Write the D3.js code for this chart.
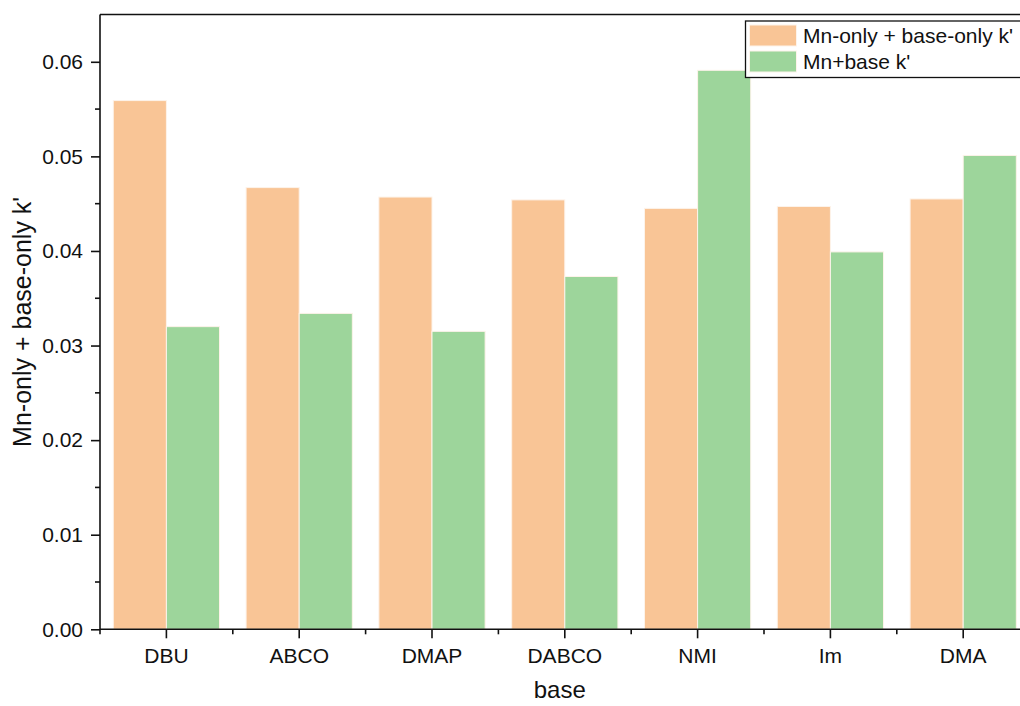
<!DOCTYPE html>
<html>
<head>
<meta charset="utf-8">
<script src="https://cdn.jsdelivr.net/npm/d3@7"></script>
<style>
  html, body { margin: 0; padding: 0; background: #fff; }
  svg { display: block; font-family: Arial, "Liberation Sans", sans-serif; }
</style>
</head>
<body>
<svg id="chart" width="1020" height="706"></svg>
<script>
// Reaction rate constants per base
const categories = ["DBU", "ABCO", "DMAP", "DABCO", "NMI", "Im", "DMA"];
const seriesNames = ["Mn-only + base-only k'", "Mn+base k'"];
const sumOnlyK = [0.0559, 0.0467, 0.0457, 0.0454, 0.0445, 0.0447, 0.0455];
const combinedK = [0.0320, 0.0334, 0.0315, 0.0373, 0.0591, 0.0399, 0.0501];
const yTicks = [0.00, 0.01, 0.02, 0.03, 0.04, 0.05, 0.06];
const colors = ["#F9C596", "#9DD59B"];

const svg = d3.select("#chart");
const plotLeft = 100, plotTop = 14.5, plotBottom = 629.3;
const plotRight = plotLeft + 7 * 132.8; // plot extends past the window edge

const x = d3.scaleBand().domain(categories).range([plotLeft, plotRight]).paddingInner(0.2).paddingOuter(0.1);
const xOuter = d3.scaleBand().domain(categories).range([plotLeft, plotRight]).padding(0);
const xSub = d3.scaleBand().domain([0, 1]).range([0, x.bandwidth()]);
const y = d3.scaleLinear().domain([0, 0.065]).range([plotBottom, plotTop]);

const rows = categories.map((c, i) => ({ c, v: [sumOnlyK[i], combinedK[i]] }));

// bars
const g = svg.append("g");
rows.forEach(r => {
  r.v.forEach((v, s) => {
    g.append("rect")
      .attr("x", xOuter(r.c) + (xOuter.bandwidth() - x.bandwidth()) / 2 + xSub(s))
      .attr("y", y(v))
      .attr("width", xSub.bandwidth())
      .attr("height", y(0) - y(v))
      .attr("fill", colors[s])
      .attr("stroke", "#fdf3ea")
      .attr("stroke-width", 1);
  });
});

const axisColor = "#111";
const fontSize = 21;

// y axis
const yAxis = d3.axisLeft(y).tickValues(yTicks).tickFormat(d3.format(".2f")).tickSize(9).tickPadding(8);
const ya = svg.append("g").attr("transform", `translate(${plotLeft},0)`).call(yAxis);
ya.select(".domain").attr("stroke", axisColor).attr("stroke-width", 1.6).attr("d", `M0,${plotBottom}V${plotTop}`);
ya.selectAll(".tick line").attr("stroke", axisColor).attr("stroke-width", 1.6);
ya.selectAll(".tick text").attr("font-size", fontSize).attr("fill", "#111").attr("font-family", "Arial, 'Liberation Sans', sans-serif");
// minor y ticks
const yMinor = d3.range(0.005, 0.065, 0.01);
svg.append("g").selectAll("line").data(yMinor).join("line")
  .attr("x1", plotLeft - 5).attr("x2", plotLeft).attr("y1", d => y(d)).attr("y2", d => y(d))
  .attr("stroke", axisColor).attr("stroke-width", 1.6);

// x axis
const xAxis = d3.axisBottom(xOuter).tickSize(9).tickPadding(10);
const xa = svg.append("g").attr("transform", `translate(0,${plotBottom})`).call(xAxis);
xa.select(".domain").attr("stroke", axisColor).attr("stroke-width", 1.6).attr("d", `M${plotLeft},0H${plotRight}`);
xa.selectAll(".tick line").attr("stroke", axisColor).attr("stroke-width", 1.6);
xa.selectAll(".tick text").attr("font-size", fontSize).attr("fill", "#111").attr("font-family", "Arial, 'Liberation Sans', sans-serif");
// minor x ticks at category boundaries
svg.append("g").selectAll("line").data(categories).join("line")
  .attr("x1", d => xOuter(d)).attr("x2", d => xOuter(d))
  .attr("y1", plotBottom).attr("y2", plotBottom + 5)
  .attr("stroke", axisColor).attr("stroke-width", 1.6);

// top frame
svg.append("line").attr("x1", plotLeft).attr("x2", plotRight).attr("y1", plotTop).attr("y2", plotTop)
  .attr("stroke", axisColor).attr("stroke-width", 1.6);
svg.append("line").attr("x1", plotRight).attr("x2", plotRight).attr("y1", plotTop).attr("y2", plotBottom)
  .attr("stroke", axisColor).attr("stroke-width", 1.6);

// axis titles
svg.append("text").attr("x", (plotLeft + plotRight) / 2 - 5).attr("y", 698)
  .attr("text-anchor", "middle").attr("font-size", 24).attr("fill", "#111").text("base");
svg.append("text").attr("transform", `translate(31,${(plotTop + plotBottom) / 2}) rotate(-90)`)
  .attr("text-anchor", "middle").attr("font-size", 25).attr("fill", "#111").text(seriesNames[0]);

// legend
const lg = svg.append("g");
lg.append("rect").attr("x", 745.5).attr("y", 21).attr("width", 300).attr("height", 56.5)
  .attr("fill", "#fff").attr("stroke", axisColor).attr("stroke-width", 1.3);
seriesNames.forEach((n, i) => {
  lg.append("rect").attr("x", 749.5).attr("y", 25 + i * 26).attr("width", 47).attr("height", 21)
    .attr("fill", colors[i]).attr("stroke", "#fdf3ea").attr("stroke-width", 1);
  lg.append("text").attr("x", 803).attr("y", 43 + i * 26).attr("font-size", fontSize).attr("fill", "#111").text(n);
});
</script>
</body>
</html>
